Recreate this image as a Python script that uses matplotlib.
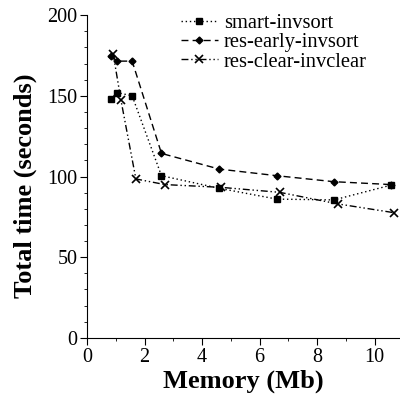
import numpy as np
import matplotlib.pyplot as plt
from matplotlib.ticker import MultipleLocator

plt.rcParams['font.family'] = ['Liberation Serif', 'DejaVu Serif']

# data
mem_smart = [0.82, 1.05, 1.57, 2.59, 4.6, 6.6, 8.59, 10.58]
time_smart = [148, 152, 150, 100.5, 92.7, 86, 85.5, 94.7]

mem_early = [0.84, 1.05, 1.57, 2.59, 4.6, 6.6, 8.58, 10.58]
time_early = [174.8, 171.5, 171.5, 114.3, 104.6, 100.5, 96.8, 95]

mem_clear = [0.91, 1.18, 1.70, 2.71, 4.65, 6.7, 8.73, 10.67]
time_clear = [176, 147.4, 98.5, 95, 93.3, 90.2, 83, 77.6]

fig = plt.figure(figsize=(4, 3.98), dpi=100)
ax = fig.add_axes([0.2175, 0.151, 0.78, 0.811])

ax.plot(mem_smart, time_smart, color='black', linestyle=(0, (1, 2)), lw=1,
        marker='s', ms=5, label='smart-invsort')
ax.plot(mem_early, time_early, color='black', linestyle=(0, (5, 3)), lw=1,
        marker='D', ms=3.5, label='res-early-invsort')
ax.plot(mem_clear, time_clear, color='black', linestyle=(0, (5, 2, 1, 2, 1, 2)), lw=1,
        marker='x', ms=6, mew=1.2, label='res-clear-invclear')

ax.set_xlim(0, 10.85)
ax.set_ylim(0, 200)
ax.xaxis.set_major_locator(MultipleLocator(2))
ax.xaxis.set_minor_locator(MultipleLocator(1))
ax.yaxis.set_major_locator(MultipleLocator(50))
ax.yaxis.set_minor_locator(MultipleLocator(10))
ax.spines['top'].set_visible(False)
ax.spines['right'].set_visible(False)
ax.tick_params(which='major', length=5, labelsize=14.5, pad=2)
ax.tick_params(which='minor', length=2.5)

ax.set_xlabel('Memory (Mb)', fontsize=19, fontweight='bold', labelpad=2)
ax.set_ylabel('Total time (seconds)', fontsize=19, fontweight='bold')
ax.yaxis.set_label_coords(-0.16, 0.47)

ax.legend(loc='upper left', frameon=False, fontsize=14.8, handlelength=1.8,
          handletextpad=0.3, labelspacing=0.0, borderaxespad=0, borderpad=0,
          bbox_to_anchor=(0.30, 1.005))

fig.savefig('out.png', dpi=100)
